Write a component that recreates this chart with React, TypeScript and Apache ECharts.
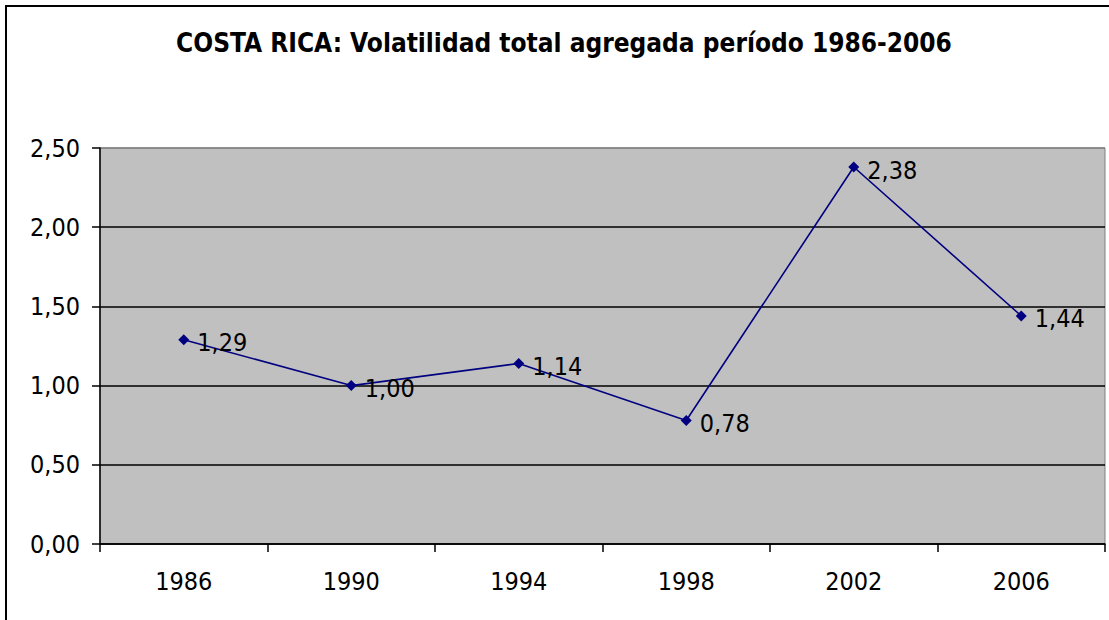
import React, { useEffect, useRef } from "react";
import * as echarts from "echarts";

const titleText = "COSTA RICA: Volatilidad total agregada período 1986-2006";
const years = ["1986", "1990", "1994", "1998", "2002", "2006"];
const volatility = [1.29, 1.0, 1.14, 0.78, 2.38, 1.44];

const FONT = "'DejaVu Sans Condensed', 'DejaVu Sans', sans-serif";
const fmt = (v: number) => v.toFixed(2).replace(".", ",");

export default function App() {
  const ref = useRef<HTMLDivElement>(null);
  useEffect(() => {
    if (!ref.current) return;
    const chart = echarts.init(ref.current, undefined, { renderer: "svg" });
    chart.setOption({
      animation: false,
      backgroundColor: "#ffffff",
      textStyle: { fontFamily: FONT },
      title: {
        text: titleText,
        left: 559,
        top: 25,
        textAlign: "center",
        textStyle: { fontFamily: FONT, fontWeight: "bold", fontSize: 26, color: "#000" },
      },
      graphic: [
        {
          type: "rect",
          shape: { x: 6, y: 6, width: 1300, height: 800 },
          style: { fill: "none", stroke: "#000", lineWidth: 2 },
          silent: true,
        },
      ],
      grid: {
        left: 100,
        right: 4,
        top: 148,
        bottom: 76,
        show: true,
        backgroundColor: "#C0C0C0",
        borderColor: "#808080",
        borderWidth: 1,
      },
      xAxis: {
        type: "category",
        data: years,
        boundaryGap: true,
        axisLine: { show: true, lineStyle: { color: "#000", width: 1.5 } },
        axisTick: { show: true, length: 8, lineStyle: { color: "#000", width: 1.5 } },
        axisLabel: { color: "#000", fontSize: 25, fontFamily: FONT, margin: 25 },
        splitLine: { show: false },
      },
      yAxis: {
        type: "value",
        min: 0,
        max: 2.5,
        interval: 0.5,
        axisLine: { show: true, lineStyle: { color: "#000", width: 1.5 } },
        axisTick: { show: true, length: 8, lineStyle: { color: "#000", width: 1.5 } },
        axisLabel: {
          color: "#000",
          fontSize: 25,
          fontFamily: FONT,
          margin: 20,
          formatter: (v: number) => fmt(v),
        },
        splitLine: {
          show: true,
          lineStyle: {
            color: ["#000", "#000", "#000", "#000", "#000", "#808080"],
            width: 1.5,
          },
        },
      },
      series: [
        {
          type: "line",
          data: volatility,
          symbol: "diamond",
          symbolSize: 11,
          itemStyle: { color: "#000080" },
          lineStyle: { color: "#000080", width: 1.6 },
          label: {
            show: true,
            position: "right",
            distance: 8,
            offset: [0, 3],
            color: "#000",
            fontSize: 25,
            fontFamily: FONT,
            formatter: (p: any) => fmt(p.value),
          },
        },
      ],
    });
    return () => chart.dispose();
  }, []);
  return (
    <div
      ref={ref}
      style={{ position: "absolute", left: 0, top: 0, width: 1109, height: 620 }}
    />
  );
}
